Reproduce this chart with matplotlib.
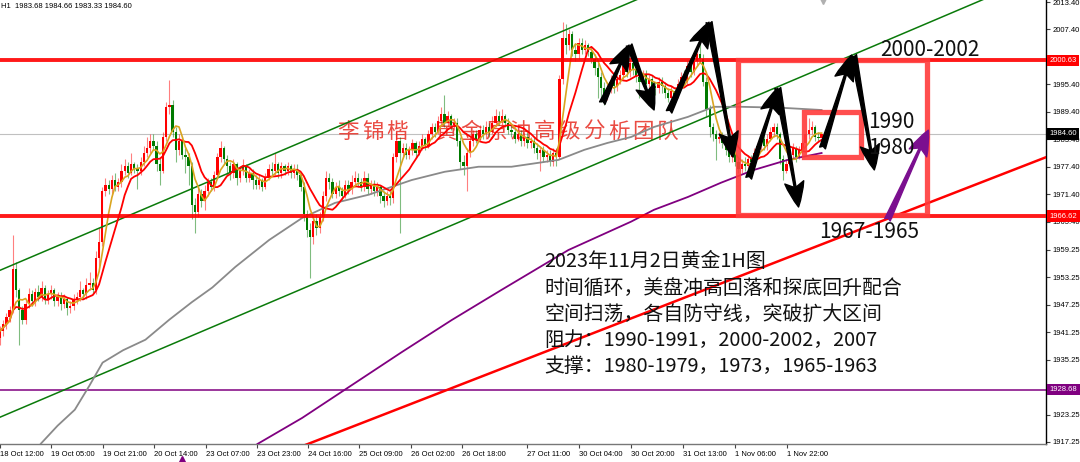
import numpy as np
import pandas as pd
import matplotlib
matplotlib.use("Agg")
import matplotlib.pyplot as plt
from matplotlib.patches import Rectangle, FancyArrowPatch

plt.rcParams['font.family'] = ['Noto Sans CJK SC', 'DejaVu Sans']

# ---- XAUUSD H1, values (one entry per hourly bar) ----
first_open = 1940.0
close = [
    1941.5, 1943.0, 1944.5, 1946.0, 1955.0, 1950.5, 1946.0, 1944.0, 1947.5, 1949.5, 1948.0, 1950.0, 1949.0, 1951.0, 1948.5, 1949.5,
    1950.5, 1948.0, 1949.0, 1947.5, 1948.5, 1946.5, 1947.0, 1948.5, 1949.0, 1950.5, 1949.5, 1951.5, 1952.0, 1950.5, 1957.5, 1961.0,
    1972.0, 1973.5, 1972.5, 1974.5, 1973.0, 1974.0, 1976.5, 1977.5, 1976.0, 1978.0, 1977.0, 1976.5, 1978.5, 1980.5, 1981.5, 1983.0,
    1982.0, 1978.0, 1976.5, 1984.0, 1990.5, 1991.0, 1985.0, 1981.0, 1983.0, 1980.0, 1979.5, 1977.5, 1969.0, 1967.5, 1971.5, 1970.0,
    1972.0, 1974.0, 1973.0, 1975.5, 1979.5, 1981.5, 1979.0, 1977.5, 1976.0, 1978.0, 1975.0, 1976.5, 1977.5, 1975.0, 1976.0, 1974.5,
    1973.5, 1974.5, 1973.0, 1975.0, 1977.0, 1976.5, 1978.0, 1976.0, 1977.5, 1976.5, 1977.5, 1976.0, 1977.0, 1975.5, 1973.0, 1967.0,
    1963.5, 1962.0, 1965.5, 1964.0, 1966.5, 1971.0, 1975.0, 1974.0, 1971.5, 1973.0, 1972.0, 1971.0, 1973.5, 1972.5, 1974.0, 1975.0,
    1974.0, 1973.0, 1975.0, 1972.5, 1973.5, 1972.0, 1973.0, 1971.0, 1970.0, 1971.0, 1970.5, 1979.5, 1983.0, 1980.5, 1981.5, 1980.0,
    1981.0, 1982.5, 1980.5, 1982.0, 1983.5, 1982.0, 1984.5, 1986.0, 1985.0, 1987.5, 1989.0, 1987.0, 1988.5, 1986.5, 1987.0, 1983.0,
    1978.5, 1977.5, 1980.5, 1983.0, 1984.5, 1983.5, 1985.5, 1984.5, 1986.0, 1985.0, 1987.0, 1988.5, 1987.5, 1988.5, 1987.0, 1985.5,
    1985.0, 1983.5, 1984.5, 1983.0, 1984.0, 1982.5, 1983.0, 1981.5, 1980.5, 1981.0, 1979.5, 1980.0, 1978.5, 1980.5, 1979.5, 1996.5,
    2005.5, 2004.0, 2006.5, 2003.0, 2002.0, 2004.5, 2003.0, 2004.0, 2002.5, 2001.0, 1999.0, 1997.0, 1994.5, 1993.0, 1994.5, 1996.0,
    1995.0, 1996.5, 1997.5, 1999.5, 1998.0, 2000.0, 1998.5, 1997.0, 1996.0, 1997.5, 1995.5, 1996.5, 1995.0, 1994.5, 1996.0, 1995.0,
    1993.5, 1992.5, 1994.0, 1993.0, 1995.5, 1997.0, 1996.0, 1999.5, 1998.0, 2000.5, 2002.0, 2001.0, 1996.0, 1990.0, 1986.0, 1984.5,
    1983.5, 1984.0, 1982.5, 1981.0, 1979.5, 1980.5, 1978.5, 1977.0, 1978.0, 1977.5, 1979.0, 1978.5, 1980.5, 1982.0, 1983.5, 1982.0,
    1983.5, 1985.0, 1986.0, 1984.5, 1979.0, 1976.5, 1978.0, 1980.0, 1981.5, 1979.5, 1981.0, 1982.5, 1984.5, 1985.5, 1986.0, 1984.0,
    1983.68, 1984.60,
]
high = [
    1942.5, 1944.0, 1945.5, 1947.0, 1962.5, 1956.5, 1951.0, 1947.0, 1948.5, 1951.0, 1950.5, 1951.0, 1951.5, 1952.5, 1951.5, 1950.5,
    1951.5, 1951.0, 1950.0, 1950.0, 1949.5, 1949.0, 1948.0, 1949.5, 1950.0, 1952.5, 1951.0, 1953.0, 1954.5, 1953.0, 1959.0, 1964.0,
    1973.0, 1975.0, 1974.5, 1975.5, 1976.0, 1975.0, 1978.0, 1979.0, 1978.5, 1980.5, 1978.5, 1978.0, 1979.5, 1982.0, 1984.0, 1984.5,
    1984.5, 1983.0, 1979.5, 1985.0, 1991.5, 1996.3, 1992.0, 1986.0, 1984.5, 1984.0, 1981.5, 1980.5, 1978.5, 1970.5, 1973.0, 1972.5,
    1973.5, 1975.0, 1975.0, 1976.5, 1980.5, 1983.0, 1982.0, 1980.0, 1978.5, 1979.0, 1978.5, 1977.5, 1979.0, 1978.0, 1977.0, 1977.0,
    1975.5, 1975.5, 1975.0, 1976.0, 1978.0, 1978.5, 1980.5, 1978.5, 1978.5, 1978.0, 1978.5, 1978.0, 1978.0, 1978.0, 1976.0, 1974.0,
    1968.0, 1965.0, 1966.5, 1967.0, 1967.5, 1972.0, 1976.5, 1976.0, 1975.0, 1974.0, 1974.5, 1973.0, 1974.5, 1974.5, 1975.5, 1976.5,
    1976.0, 1975.0, 1976.5, 1976.0, 1974.5, 1974.5, 1974.0, 1973.5, 1972.0, 1972.0, 1972.0, 1980.5, 1985.0, 1984.0, 1982.5, 1982.5,
    1982.0, 1983.5, 1983.0, 1983.0, 1984.5, 1984.0, 1985.5, 1987.0, 1987.0, 1988.5, 1990.5, 1993.0, 1989.5, 1989.0, 1988.0, 1988.0,
    1984.0, 1980.0, 1981.5, 1984.0, 1985.5, 1985.5, 1986.5, 1986.5, 1987.5, 1987.0, 1988.5, 1990.0, 1989.5, 1990.0, 1989.0, 1988.0,
    1986.5, 1986.0, 1985.5, 1985.5, 1985.0, 1985.0, 1984.0, 1984.0, 1982.5, 1982.0, 1982.0, 1981.0, 1981.0, 1981.5, 1981.5, 1997.5,
    2009.0, 2008.5, 2007.5, 2007.0, 2004.5, 2005.5, 2005.5, 2005.0, 2004.5, 2003.5, 2002.0, 2000.0, 1998.0, 1996.0, 1996.0, 1997.5,
    1997.0, 1997.5, 1998.5, 2000.5, 2001.0, 2001.5, 2001.0, 1999.5, 1998.0, 1998.5, 1998.5, 1997.5, 1997.5, 1996.0, 1997.0, 1997.0,
    1996.0, 1994.5, 1995.0, 1994.5, 1996.5, 1998.0, 1998.5, 2000.5, 2001.0, 2002.0, 2003.5, 2004.4, 2002.0, 1997.0, 1991.0, 1987.0,
    1985.5, 1985.0, 1985.0, 1983.5, 1982.0, 1981.5, 1981.5, 1979.5, 1979.0, 1979.5, 1980.0, 1980.0, 1981.5, 1983.0, 1985.0, 1984.5,
    1984.5, 1986.0, 1987.0, 1987.0, 1985.0, 1980.0, 1979.0, 1981.0, 1982.5, 1982.0, 1982.0, 1983.0, 1985.5, 1988.0, 1987.5, 1986.5,
    1985.0, 1984.66,
]
low = [
    1938.5, 1940.5, 1942.0, 1943.5, 1945.5, 1949.0, 1938.5, 1943.0, 1943.0, 1946.5, 1947.0, 1947.0, 1948.0, 1948.0, 1947.5, 1947.5,
    1948.5, 1947.0, 1947.0, 1946.0, 1946.5, 1945.0, 1945.5, 1946.0, 1947.5, 1948.0, 1948.5, 1948.5, 1950.5, 1949.5, 1949.5, 1955.5,
    1960.0, 1971.0, 1971.5, 1971.5, 1972.0, 1972.0, 1973.0, 1975.5, 1975.0, 1975.5, 1976.0, 1972.5, 1975.5, 1977.5, 1979.5, 1980.5,
    1981.0, 1976.5, 1973.5, 1976.0, 1983.0, 1989.0, 1984.0, 1978.5, 1980.0, 1979.0, 1976.0, 1973.5, 1966.0, 1963.0, 1966.5, 1968.5,
    1968.0, 1971.0, 1972.0, 1972.0, 1975.0, 1978.5, 1978.0, 1975.5, 1974.5, 1975.0, 1973.5, 1974.0, 1975.5, 1974.0, 1974.0, 1972.5,
    1972.5, 1972.5, 1972.0, 1972.5, 1974.5, 1975.5, 1975.5, 1975.0, 1975.0, 1975.5, 1975.5, 1975.0, 1975.0, 1974.5, 1972.0, 1965.5,
    1962.0, 1953.0, 1960.5, 1962.5, 1963.0, 1965.5, 1970.0, 1972.5, 1970.5, 1970.5, 1971.0, 1970.0, 1970.5, 1971.5, 1971.5, 1973.0,
    1973.0, 1972.0, 1972.0, 1971.5, 1971.5, 1971.0, 1971.0, 1969.5, 1968.5, 1969.0, 1969.0, 1969.5, 1978.5, 1963.0, 1979.5, 1979.0,
    1979.0, 1980.0, 1979.5, 1980.0, 1981.0, 1981.0, 1981.5, 1983.5, 1984.0, 1984.5, 1986.5, 1986.0, 1986.0, 1985.5, 1985.5, 1982.0,
    1977.0, 1975.5, 1972.0, 1979.5, 1982.0, 1982.5, 1983.0, 1983.5, 1983.5, 1984.0, 1984.5, 1986.0, 1986.5, 1986.5, 1986.0, 1984.5,
    1984.0, 1982.5, 1983.0, 1982.0, 1982.0, 1981.5, 1981.5, 1980.5, 1979.0, 1976.5, 1978.5, 1978.5, 1977.5, 1977.5, 1977.5, 1979.0,
    1995.5, 2002.0, 2003.0, 2001.5, 2000.5, 2001.0, 2002.0, 2002.0, 2001.5, 2000.0, 1997.5, 1992.5, 1991.5, 1991.0, 1992.0, 1993.5,
    1993.5, 1994.0, 1995.5, 1996.5, 1997.0, 1997.0, 1997.5, 1996.0, 1992.5, 1995.0, 1994.5, 1994.5, 1993.5, 1993.0, 1993.5, 1993.5,
    1992.5, 1991.5, 1991.5, 1992.0, 1992.5, 1994.5, 1995.0, 1995.5, 1997.0, 1997.5, 1999.5, 2000.0, 1995.0, 1988.5, 1984.0, 1983.0,
    1978.9, 1982.5, 1981.5, 1980.0, 1978.5, 1978.5, 1977.5, 1976.0, 1976.0, 1976.5, 1976.5, 1977.0, 1977.5, 1979.5, 1981.0, 1981.0,
    1981.0, 1983.0, 1984.0, 1983.5, 1978.0, 1974.5, 1976.0, 1977.5, 1979.0, 1978.5, 1979.0, 1980.5, 1982.0, 1983.5, 1984.5, 1983.0,
    1983.0, 1983.33,
]

# long moving averages (they begin before the visible window), (bar, price)
gray_ma_x = [8, 12.8, 18.0, 23.4, 28.0, 32.1, 38.5, 45.5, 53.0, 60.0, 66.4, 73.6, 84.2, 94.5, 104.8, 115.4, 128.8,
             139.1, 149.7, 160.0, 174.7, 182.8, 190.0, 197.4, 204.6, 215.2, 223.3, 231.7, 244.2, 257.0]
gray_ma_y = [1912.0, 1916.9, 1920.8, 1924.3, 1929.6, 1934.6, 1937.3, 1939.6, 1944.0, 1947.8, 1951.0, 1955.5, 1961.4,
             1966.2, 1969.5, 1971.3, 1974.5, 1976.3, 1977.4, 1977.4, 1978.9, 1981.1, 1982.6, 1983.9, 1986.1, 1988.3,
             1990.5, 1990.5, 1990.3, 1989.8]
purple_ma_x = [76, 80.5, 94.5, 110.1, 125.7, 141.3, 156.9, 177.8, 197.4, 204.6, 215.2, 225.5, 235.8, 246.4, 257.0]
purple_ma_y = [1914.0, 1916.8, 1922.5, 1929.7, 1936.9, 1943.9, 1950.5, 1959.2, 1965.4, 1968.0, 1970.8, 1973.9, 1976.7, 1978.9, 1980.4]

# drawn objects
chan_top_x, chan_top_y = [-10, 220], [1951.8, 2020.1]
chan_low_x, chan_low_y = [-10, 335], [1919.7, 2022.1]
trend_x, trend_y = [90, 335], [1915.1, 1981.6]
res_level, sup_level, low_level, last_price = 2000.63, 1966.62, 1928.68, 1984.60

big_box = (230.8, 1966.9, 290.1, 2000.7)     # x0, y0, x1, y1
small_box = (251.4, 1979.6, 269.2, 1989.4)

arrow_from = [(188.4, 1991.3), (196.8, 2004.0), (209.3, 1989.4), (221.8, 2009.0),
              (234.2, 1974.9), (243.3, 1994.6), (257.3, 1981.5), (267.0, 2001.8)]
arrow_to = [(196.8, 2004.0), (204.6, 1989.8), (221.8, 2009.0), (229.3, 1979.5),
            (243.3, 1994.6), (249.8, 1968.6), (266.4, 2001.8), (273.5, 1976.7)]
purple_arrow = [(277.6, 1965.8), (290.4, 1985.4)]

level_notes = [("2000-2002", 275.4, 2002.9), ("1990", 271.7, 1987.2),
               ("1980", 271.7, 1981.5), ("1967-1965", 256.1, 1963.1)]
note_lines = ["2023年11月2日黄金1H图",
              "时间循环，美盘冲高回落和探底回升配合",
              "空间扫荡，各自防守线，突破扩大区间",
              "阻力：1990-1991，2000-2002，2007",
              "支撑：1980-1979，1973，1965-1963"]
watermark = "李锦楷 黄金原油高级分析团队"

x_labels = ["18 Oct 12:00", "19 Oct 05:00", "19 Oct 21:00", "20 Oct 14:00", "23 Oct 07:00",
            "23 Oct 23:00", "24 Oct 16:00", "25 Oct 09:00", "26 Oct 02:00", "26 Oct 18:00",
            "27 Oct 11:00", "30 Oct 04:00", "30 Oct 20:00", "31 Oct 13:00", "1 Nov 06:00", "1 Nov 22:00"]
x_tick_bars = [0, 15.9, 32.1, 48.3, 64.3, 80.5, 96.4, 112.3, 128.5, 144.4,
               165.0, 181.2, 197.4, 213.6, 229.9, 246.1]
y_ticks = [2013.40, 2007.40, 1995.40, 1989.40, 1983.40, 1977.40, 1971.40, 1965.40,
           1959.25, 1953.25, 1947.25, 1941.25, 1935.25, 1923.25, 1917.25]

# ---- derived series ----
c = np.array(close)
o = np.r_[first_open, c[:-1]]
h = np.maximum(np.array(high), np.maximum(o, c))
l = np.minimum(np.array(low), np.minimum(o, c))
x = np.arange(len(c))
ma_fast = pd.Series(c).rolling(5, min_periods=1).mean()
ma_mid = pd.Series(c).rolling(10, min_periods=1).mean()

# ---- figure ----
fig = plt.figure(figsize=(10.8, 4.62), dpi=100)
ax = fig.add_axes([0, 18 / 462, 1046 / 1080, 444 / 462])
ax.set_xlim(0.94, 327.2)
ax.set_ylim(1916.81, 2013.84)

small = dict(family=['Liberation Sans', 'DejaVu Sans'], fontsize=5.5)

ax.axhline(last_price, color='#c0c0c0', lw=0.8, zorder=1)
ax.axhline(low_level, color='#800080', lw=1.1, zorder=1)

# watermark (drawn char by char, spaced like the screenshot)
for i, ch in enumerate(watermark):
    ax.text((348 + 24.6 * i) / 1046, 1 - 132 / 444, ch, transform=ax.transAxes,
            ha='center', va='center', fontsize=15.5, color='#e8382e', alpha=0.9,
            fontweight='light', zorder=1)

ax.plot(chan_top_x, chan_top_y, color='#0a7a0a', lw=1.1, zorder=3)
ax.plot(chan_low_x, chan_low_y, color='#0a7a0a', lw=1.1, zorder=3)
ax.plot(gray_ma_x, gray_ma_y, color='#8a8a8a', lw=1.3, zorder=3)
ax.plot(purple_ma_x, purple_ma_y, color='#800080', lw=1.3, zorder=3)
ax.plot(trend_x, trend_y, color='#ff0000', lw=1.8, zorder=3)

# candles: red = up, green = down
up = c >= o
body_col = np.where(up, '#ff0000', '#007a00')
ax.vlines(x, l, h, colors=body_col, lw=0.8, alpha=0.5, zorder=2)
ax.bar(x, np.maximum(np.abs(c - o), 0.25), bottom=np.minimum(o, c), width=0.72,
       color=body_col, lw=0, zorder=2)

ax.plot(x, ma_mid, color='#ff0000', lw=1.3, zorder=4)
ax.plot(x, ma_fast, color='#daa520', lw=1.2, zorder=4)

ax.axhline(res_level, color='#ff0000', lw=2.8, alpha=0.9, zorder=5)
ax.axhline(sup_level, color='#ff0000', lw=2.8, alpha=0.9, zorder=5)

for bx in (big_box, small_box):
    ax.add_patch(Rectangle((bx[0], bx[1]), bx[2] - bx[0], bx[3] - bx[1], fill=False,
                           ec='#ff3b3b', lw=3.8, alpha=0.9, zorder=6))

arrow_style = 'fancy,head_length=1.5,head_width=1.15,tail_width=0.36'
for a, b in zip(arrow_from, arrow_to):
    ax.add_patch(FancyArrowPatch(a, b, arrowstyle=arrow_style, mutation_scale=12,
                                 color='black', shrinkA=0, shrinkB=0, zorder=7))
ax.add_patch(FancyArrowPatch(purple_arrow[0], purple_arrow[1], arrowstyle=arrow_style,
                             mutation_scale=12, color='#7b0f8f', shrinkA=0, shrinkB=0, zorder=7))

for txt, tx, ty in level_notes:
    ax.text(tx, ty, txt, fontsize=15, color='#111111', va='center', ha='left', zorder=8)
for i, line in enumerate(note_lines):
    ax.text(170.3, 1956.6 - 5.72 * i, line, fontsize=14.3, color='#111111', va='center', ha='left', zorder=8)

# axes styling (MT4 look)
for s in ('top', 'left'):
    ax.spines[s].set_visible(False)
ax.spines['right'].set_color('black')
ax.spines['right'].set_linewidth(1.0)
ax.spines['bottom'].set_color('#777777')
ax.spines['bottom'].set_linewidth(1.0)

ax.set_xticks(x_tick_bars)
ax.set_xticklabels(x_labels, **small)
for lab in ax.get_xticklabels():
    lab.set_ha('left')
ax.tick_params(axis='x', direction='out', length=3, width=0.8, pad=2, color='#444444')

ax.yaxis.tick_right()
ax.set_yticks(y_ticks)
ax.set_yticklabels([f"{v:.2f}" for v in y_ticks], **small)
ax.tick_params(axis='y', direction='out', length=3, width=0.8, pad=1.5, color='#444444')

# price tags on the right scale
tag_tr = ax.get_yaxis_transform()
for val, fc in [(res_level, '#ff0000'), (last_price, '#000000'), (sup_level, '#ff0000'), (low_level, '#800080')]:
    ax.text(1.0035, val, f"{val:.2f}", transform=tag_tr, color='white', va='center', ha='left',
            bbox=dict(boxstyle='square,pad=0.3', fc=fc, ec='none'), zorder=10, clip_on=False, **small)

# small markers seen at the edges
ax.plot([57], [-0.033], marker='^', ms=4.5, color='#800080', transform=ax.get_xaxis_transform(), clip_on=False)
ax.plot([257.5], [0.998], marker='v', ms=5, color='#b0b0b0', transform=ax.get_xaxis_transform(), clip_on=False)

fig.text(0.001, 1 - 6 / 462, "H1  1983.68 1984.66 1983.33 1984.60", va='center', ha='left', **small)

fig.savefig("out.png", dpi=100, facecolor='white')
